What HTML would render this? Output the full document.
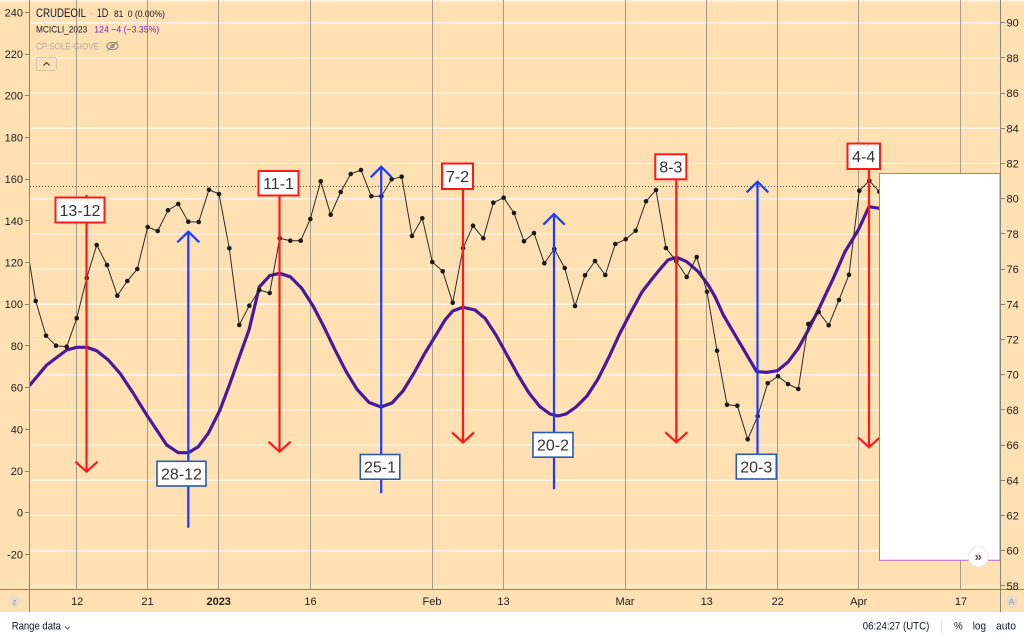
<!DOCTYPE html>
<html>
<head>
<meta charset="utf-8">
<style>
html,body{margin:0;padding:0;background:#ffffff;}
body{width:1024px;height:640px;overflow:hidden;}
svg{display:block;font-family:"Liberation Sans",Arial,sans-serif;}
</style>
</head>
<body>
<svg width="1024" height="640" viewBox="0 0 1024 640" xmlns="http://www.w3.org/2000/svg">
  <defs>
    <clipPath id="plot"><rect x="30" y="0" width="970" height="589"/></clipPath>
  </defs>
  <!-- background -->
  <rect x="0" y="0" width="1024" height="612" fill="#ffe0b2"/>
  <rect x="0" y="612" width="1024" height="28" fill="#ffffff"/>
  <rect x="0" y="0" width="1024" height="1.5" fill="#fff4e4"/>

  <!-- horizontal grid (white) -->
  <g stroke="#fff6ea" stroke-width="1.2" shape-rendering="crispEdges">
    <line x1="30" x2="1000" y1="22.7" y2="22.7"/>
    <line x1="30" x2="1000" y1="57.9" y2="57.9"/>
    <line x1="30" x2="1000" y1="93.1" y2="93.1"/>
    <line x1="30" x2="1000" y1="128.3" y2="128.3"/>
    <line x1="30" x2="1000" y1="163.5" y2="163.5"/>
    <line x1="30" x2="1000" y1="198.7" y2="198.7"/>
    <line x1="30" x2="1000" y1="233.9" y2="233.9"/>
    <line x1="30" x2="1000" y1="269.1" y2="269.1"/>
    <line x1="30" x2="1000" y1="304.3" y2="304.3"/>
    <line x1="30" x2="1000" y1="339.5" y2="339.5"/>
    <line x1="30" x2="1000" y1="374.7" y2="374.7"/>
    <line x1="30" x2="1000" y1="409.9" y2="409.9"/>
    <line x1="30" x2="1000" y1="445.1" y2="445.1"/>
    <line x1="30" x2="1000" y1="480.3" y2="480.3"/>
    <line x1="30" x2="1000" y1="515.5" y2="515.5"/>
    <line x1="30" x2="1000" y1="550.7" y2="550.7"/>
    <line x1="30" x2="1000" y1="585.9" y2="585.9"/>
  </g>

  <!-- vertical grid -->
  <g stroke="#a39a88" stroke-width="1" shape-rendering="crispEdges">
    <line x1="76.5" x2="76.5" y1="0" y2="589"/>
    <line x1="147.5" x2="147.5" y1="0" y2="589"/>
    <line x1="218.5" x2="218.5" y1="0" y2="589"/>
    <line x1="310.5" x2="310.5" y1="0" y2="589"/>
    <line x1="432.5" x2="432.5" y1="0" y2="589"/>
    <line x1="503.5" x2="503.5" y1="0" y2="589"/>
    <line x1="625.5" x2="625.5" y1="0" y2="589"/>
    <line x1="706.5" x2="706.5" y1="0" y2="589"/>
    <line x1="777.5" x2="777.5" y1="0" y2="589"/>
    <line x1="858.5" x2="858.5" y1="0" y2="589"/>
    <line x1="960.5" x2="960.5" y1="0" y2="589"/>
  </g>

  <!-- dotted price line -->
  <line x1="30" x2="1000" y1="186.5" y2="186.5" stroke="#555" stroke-width="1" stroke-dasharray="1,2" shape-rendering="crispEdges"/>

  <g clip-path="url(#plot)">
    <!-- purple cycle curve -->
    <polyline fill="none" stroke="#4a189e" stroke-width="3.2" stroke-linejoin="round" stroke-linecap="round"
      points="30,385 46.7,365 66.7,350 76.7,347.3 86.7,347.3 96.7,350.7 108.3,360 120,373.3 133.3,393.3 146.7,415 156.7,430 166.7,445 178.3,452.7 188.3,452.7 198.3,446.7 208.3,433.3 220,410 230,383.3 240,355 249,330 259.3,287 269.7,275.7 279.7,273.3 290.3,276.8 301.7,288.3 313.3,306.4 323.3,325.6 335,349.8 346,371.3 357,389.3 369,402.4 381,407 392,403 403,391 414,373 425,353 436,335 445,320 452.7,311 463,307.3 475,310 485,318.3 496,335 507,355 518,375 529,393 540,406.7 550,414 558,416 566,414 576,407 587,396 598,379 609,357 620,333 631,312 642,292 652,279 661,268 668,260 676.7,257.3 686.7,261.7 698.3,271.7 708.3,285 715,296.7 723.3,315 740,343.3 756.7,371.7 766.7,372.3 777.3,370.7 788.3,361.7 798.3,348.3 808.3,330 818.3,310 833.3,278.3 845,251.7 858.3,230 869,206.7 879.3,208.3 900,209"/>

    <!-- price series -->
    <polyline fill="none" stroke="#2b2b2b" stroke-width="1" stroke-linejoin="round"
      points="26,240 35.7,301 46,335.7 56,345.7 66.7,346.7 76.7,318.3 86.7,278 96.7,245 107,265 117.3,295.7 127.3,281 137.3,269 147.7,227 157.7,231 168,210.3 178.3,204 188.3,221.7 198.7,222 209,189.7 219,194 229.3,248.3 239.3,325 249.3,305.7 259.3,290 269.7,293 279.7,238.3 290.3,240.7 300.7,240.7 310.3,219 320.7,181.3 330.7,214.7 340.7,192 350.7,174 361,170 371.3,196.3 381.3,196.3 391.7,179.3 401.7,176.7 412,236 422.3,218.3 432.3,262 442.7,271.3 452.7,302.7 463,248.3 473,225.7 483.3,238.3 493.3,202.7 503.7,197.7 514,213 524,241.3 534,233 544.3,263.3 554.3,249 564.7,268 575,306 585,275.3 595,261 605.3,275 615.3,244 625.7,239.3 635.7,230.7 646,201.3 656,190 666,248 676.3,261.3 686.7,277 696.7,257 707,291.7 717,350.7 727,404.7 737.3,405.7 747.7,439.3 757.7,416.3 767.7,383.3 778,376.3 788,384 798.3,389 808.3,324 818.7,312 828.7,325.3 839,300 849,274.7 859.3,190.7 869.3,180.7 879.3,191.7"/>
    <g fill="#1a1a1a">
      <circle cx="35.7" cy="301" r="2.3"/><circle cx="46" cy="335.7" r="2.3"/><circle cx="56" cy="345.7" r="2.3"/><circle cx="66.7" cy="346.7" r="2.3"/><circle cx="76.7" cy="318.3" r="2.3"/><circle cx="86.7" cy="278" r="2.3"/><circle cx="96.7" cy="245" r="2.3"/><circle cx="107" cy="265" r="2.3"/><circle cx="117.3" cy="295.7" r="2.3"/><circle cx="127.3" cy="281" r="2.3"/><circle cx="137.3" cy="269" r="2.3"/><circle cx="147.7" cy="227" r="2.3"/><circle cx="157.7" cy="231" r="2.3"/><circle cx="168" cy="210.3" r="2.3"/><circle cx="178.3" cy="204" r="2.3"/><circle cx="188.3" cy="221.7" r="2.3"/><circle cx="198.7" cy="222" r="2.3"/><circle cx="209" cy="189.7" r="2.3"/><circle cx="219" cy="194" r="2.3"/><circle cx="229.3" cy="248.3" r="2.3"/><circle cx="239.3" cy="325" r="2.3"/><circle cx="249.3" cy="305.7" r="2.3"/><circle cx="259.3" cy="290" r="2.3"/><circle cx="269.7" cy="293" r="2.3"/><circle cx="279.7" cy="238.3" r="2.3"/><circle cx="290.3" cy="240.7" r="2.3"/><circle cx="300.7" cy="240.7" r="2.3"/><circle cx="310.3" cy="219" r="2.3"/><circle cx="320.7" cy="181.3" r="2.3"/><circle cx="330.7" cy="214.7" r="2.3"/><circle cx="340.7" cy="192" r="2.3"/><circle cx="350.7" cy="174" r="2.3"/><circle cx="361" cy="170" r="2.3"/><circle cx="371.3" cy="196.3" r="2.3"/><circle cx="381.3" cy="196.3" r="2.3"/><circle cx="391.7" cy="179.3" r="2.3"/><circle cx="401.7" cy="176.7" r="2.3"/><circle cx="412" cy="236" r="2.3"/><circle cx="422.3" cy="218.3" r="2.3"/><circle cx="432.3" cy="262" r="2.3"/><circle cx="442.7" cy="271.3" r="2.3"/><circle cx="452.7" cy="302.7" r="2.3"/><circle cx="463" cy="248.3" r="2.3"/><circle cx="473" cy="225.7" r="2.3"/><circle cx="483.3" cy="238.3" r="2.3"/><circle cx="493.3" cy="202.7" r="2.3"/><circle cx="503.7" cy="197.7" r="2.3"/><circle cx="514" cy="213" r="2.3"/><circle cx="524" cy="241.3" r="2.3"/><circle cx="534" cy="233" r="2.3"/><circle cx="544.3" cy="263.3" r="2.3"/><circle cx="554.3" cy="249" r="2.3"/><circle cx="564.7" cy="268" r="2.3"/><circle cx="575" cy="306" r="2.3"/><circle cx="585" cy="275.3" r="2.3"/><circle cx="595" cy="261" r="2.3"/><circle cx="605.3" cy="275" r="2.3"/><circle cx="615.3" cy="244" r="2.3"/><circle cx="625.7" cy="239.3" r="2.3"/><circle cx="635.7" cy="230.7" r="2.3"/><circle cx="646" cy="201.3" r="2.3"/><circle cx="656" cy="190" r="2.3"/><circle cx="666" cy="248" r="2.3"/><circle cx="676.3" cy="261.3" r="2.3"/><circle cx="686.7" cy="277" r="2.3"/><circle cx="696.7" cy="257" r="2.3"/><circle cx="707" cy="291.7" r="2.3"/><circle cx="717" cy="350.7" r="2.3"/><circle cx="727" cy="404.7" r="2.3"/><circle cx="737.3" cy="405.7" r="2.3"/><circle cx="747.7" cy="439.3" r="2.3"/><circle cx="757.7" cy="416.3" r="2.3"/><circle cx="767.7" cy="383.3" r="2.3"/><circle cx="778" cy="376.3" r="2.3"/><circle cx="788" cy="384" r="2.3"/><circle cx="798.3" cy="389" r="2.3"/><circle cx="808.3" cy="324" r="2.3"/><circle cx="818.7" cy="312" r="2.3"/><circle cx="828.7" cy="325.3" r="2.3"/><circle cx="839" cy="300" r="2.3"/><circle cx="849" cy="274.7" r="2.3"/><circle cx="859.3" cy="190.7" r="2.3"/><circle cx="869.3" cy="180.7" r="2.3"/><circle cx="879.3" cy="191.7" r="2.3"/>
    </g>
  </g>

  <!-- red down arrows -->
  <g stroke="#ff1a1a" stroke-width="2.2" fill="none" stroke-linecap="butt">
    <path d="M86.5,195 L86.5,471.7 M75.5,461.7 L86.5,471.7 L97.5,461.7"/>
    <path d="M279.5,171 L279.5,451.7 M268.5,441.7 L279.5,451.7 L290.5,441.7"/>
    <path d="M463,164 L463,442.5 M452,432.5 L463,442.5 L474,432.5"/>
    <path d="M676.3,155 L676.3,442.3 M665.3,432.3 L676.3,442.3 L687.3,432.3"/>
    <path d="M869,144 L869,447.3 M858,437.3 L869,447.3 L880,437.3"/>
  </g>

  <!-- blue up arrows -->
  <g stroke="#1a3cff" stroke-width="2.2" fill="none">
    <path d="M188.3,527.7 L188.3,231.7 M177.3,242.3 L188.3,231.7 L199.3,242.3"/>
    <path d="M381.2,493.3 L381.2,166.7 M370.7,177.3 L381.2,166.7 L391.7,177.3"/>
    <path d="M554,489.3 L554,214 M543.3,224.7 L554,214 L564.7,224.7"/>
    <path d="M757.5,455 L757.5,181.7 M746.7,192.3 L757.5,181.7 L768.3,192.3"/>
  </g>

  <!-- red label boxes -->
  <g font-size="16" fill="#333" text-anchor="middle">
    <rect x="55.5" y="197.5" width="49" height="25" fill="#fff" stroke="#ff1a1a" stroke-width="2"/>
    <text x="80" y="215.8">13-12</text>
    <rect x="258.5" y="171" width="40" height="24.5" fill="#fff" stroke="#ff1a1a" stroke-width="2"/>
    <text x="278.5" y="189">11-1</text>
    <rect x="442" y="163.5" width="31" height="25.5" fill="#fff" stroke="#ff1a1a" stroke-width="2"/>
    <text x="457.5" y="182">7-2</text>
    <rect x="655.3" y="154.3" width="31" height="25" fill="#fff" stroke="#ff1a1a" stroke-width="2"/>
    <text x="670.8" y="172.6">8-3</text>
    <rect x="847.5" y="143.5" width="32.5" height="25.5" fill="#fff" stroke="#ff1a1a" stroke-width="2"/>
    <text x="863.7" y="162">4-4</text>
  </g>

  <!-- blue label boxes -->
  <g font-size="16" fill="#333" text-anchor="middle">
    <rect x="157" y="461.3" width="49" height="24.7" fill="#fff" stroke="#2a5caa" stroke-width="1.6"/>
    <text x="181.5" y="479.5">28-12</text>
    <rect x="360.3" y="454.5" width="39.5" height="24.7" fill="#fff" stroke="#2a5caa" stroke-width="1.6"/>
    <text x="380" y="472.7">25-1</text>
    <rect x="533" y="432.5" width="40" height="24.7" fill="#fff" stroke="#2a5caa" stroke-width="1.6"/>
    <text x="553" y="450.7">20-2</text>
    <rect x="736.3" y="454.3" width="40" height="24.7" fill="#fff" stroke="#2a5caa" stroke-width="1.6"/>
    <text x="756.3" y="472.5">20-3</text>
  </g>

  <!-- white overlay box -->
  <rect x="879.5" y="173.5" width="120.5" height="386.8" fill="#ffffff" stroke="#b968cc" stroke-width="1"/>
  <circle cx="978.3" cy="556.7" r="10" fill="#ffffff" stroke="#eee4f0" stroke-width="1"/>
  <text x="978.3" y="561" font-size="13" fill="#555" text-anchor="middle" font-weight="bold">»</text>

  <!-- axes lines -->
  <g stroke="#8a8378" stroke-width="1" shape-rendering="crispEdges">
    <line x1="29.5" x2="29.5" y1="0" y2="612"/>
    <line x1="1000.5" x2="1000.5" y1="0" y2="612"/>
    <line x1="0" x2="1024" y1="589.5" y2="589.5"/>
  </g>

  <!-- left axis ticks/labels -->
  <g stroke="#8a8378" stroke-width="1" shape-rendering="crispEdges">
    <line x1="25" x2="29" y1="12.5" y2="12.5"/><line x1="25" x2="29" y1="54.5" y2="54.5"/><line x1="25" x2="29" y1="95.5" y2="95.5"/><line x1="25" x2="29" y1="137.5" y2="137.5"/><line x1="25" x2="29" y1="179.5" y2="179.5"/><line x1="25" x2="29" y1="220.5" y2="220.5"/><line x1="25" x2="29" y1="262.5" y2="262.5"/><line x1="25" x2="29" y1="304.5" y2="304.5"/><line x1="25" x2="29" y1="345.5" y2="345.5"/><line x1="25" x2="29" y1="387.5" y2="387.5"/><line x1="25" x2="29" y1="429.5" y2="429.5"/><line x1="25" x2="29" y1="471.5" y2="471.5"/><line x1="25" x2="29" y1="512.5" y2="512.5"/><line x1="25" x2="29" y1="554.5" y2="554.5"/>
  </g>
  <g font-size="11" fill="#1e1e1e" text-anchor="end">
    <text x="23" y="16.3">240</text>
    <text x="23" y="58">220</text>
    <text x="23" y="99.7">200</text>
    <text x="23" y="141.4">180</text>
    <text x="23" y="183.1">160</text>
    <text x="23" y="224.8">140</text>
    <text x="23" y="266.5">120</text>
    <text x="23" y="308.2">100</text>
    <text x="23" y="349.9">80</text>
    <text x="23" y="391.6">60</text>
    <text x="23" y="433.3">40</text>
    <text x="23" y="475">20</text>
    <text x="23" y="516.7">0</text>
    <text x="23" y="558.4">-20</text>
  </g>

  <!-- right axis ticks/labels -->
  <g stroke="#8a8378" stroke-width="1" shape-rendering="crispEdges">
    <line x1="1001" x2="1005" y1="22.5" y2="22.5"/><line x1="1001" x2="1005" y1="57.5" y2="57.5"/><line x1="1001" x2="1005" y1="93.5" y2="93.5"/><line x1="1001" x2="1005" y1="128.5" y2="128.5"/><line x1="1001" x2="1005" y1="163.5" y2="163.5"/><line x1="1001" x2="1005" y1="198.5" y2="198.5"/><line x1="1001" x2="1005" y1="233.5" y2="233.5"/><line x1="1001" x2="1005" y1="269.5" y2="269.5"/><line x1="1001" x2="1005" y1="304.5" y2="304.5"/><line x1="1001" x2="1005" y1="339.5" y2="339.5"/><line x1="1001" x2="1005" y1="374.5" y2="374.5"/><line x1="1001" x2="1005" y1="409.5" y2="409.5"/><line x1="1001" x2="1005" y1="445.5" y2="445.5"/><line x1="1001" x2="1005" y1="480.5" y2="480.5"/><line x1="1001" x2="1005" y1="515.5" y2="515.5"/><line x1="1001" x2="1005" y1="550.5" y2="550.5"/><line x1="1001" x2="1005" y1="585.5" y2="585.5"/>
  </g>
  <g font-size="11" fill="#1e1e1e">
    <text x="1006.5" y="26.7">90</text>
    <text x="1006.5" y="61.9">88</text>
    <text x="1006.5" y="97.1">86</text>
    <text x="1006.5" y="132.3">84</text>
    <text x="1006.5" y="167.5">82</text>
    <text x="1006.5" y="202.7">80</text>
    <text x="1006.5" y="237.9">78</text>
    <text x="1006.5" y="273.1">76</text>
    <text x="1006.5" y="308.3">74</text>
    <text x="1006.5" y="343.5">72</text>
    <text x="1006.5" y="378.7">70</text>
    <text x="1006.5" y="413.9">68</text>
    <text x="1006.5" y="449.1">66</text>
    <text x="1006.5" y="484.3">64</text>
    <text x="1006.5" y="519.5">62</text>
    <text x="1006.5" y="554.7">60</text>
    <text x="1006.5" y="589.9">58</text>
  </g>

  <!-- time axis labels -->
  <g font-size="11" fill="#1e1e1e" text-anchor="middle">
    <text x="77.2" y="605">12</text>
    <text x="147.5" y="605">21</text>
    <text x="218.7" y="605" font-weight="bold">2023</text>
    <text x="310.5" y="605">16</text>
    <text x="432" y="605">Feb</text>
    <text x="503.5" y="605">13</text>
    <text x="625" y="605">Mar</text>
    <text x="706.7" y="605">13</text>
    <text x="777.7" y="605">22</text>
    <text x="858.7" y="605">Apr</text>
    <text x="961" y="605">17</text>
  </g>
  <circle cx="14.5" cy="601.5" r="6" fill="#eadccb"/>
  <text x="14.5" y="604.5" font-size="8" fill="#999" text-anchor="middle">z</text>
  <circle cx="1011.7" cy="601.5" r="6.5" fill="#eadccb"/>
  <text x="1011.7" y="604.7" font-size="8.5" fill="#999" text-anchor="middle">A</text>

  <!-- legend -->
  <text x="36" y="17" font-size="12" fill="#131722" textLength="50" lengthAdjust="spacingAndGlyphs">CRUDEOIL</text>
  <text x="89.5" y="16" font-size="10" fill="#999">·</text>
  <text x="96.7" y="17" font-size="12" fill="#131722" textLength="11.6" lengthAdjust="spacingAndGlyphs">1D</text>
  <text x="114" y="17" font-size="9.5" fill="#131722" textLength="9.3" lengthAdjust="spacingAndGlyphs">81</text>
  <text x="127.7" y="17" font-size="9.5" fill="#131722" textLength="37.3" lengthAdjust="spacingAndGlyphs">0 (0.00%)</text>
  <text x="36" y="32.7" font-size="9.5" fill="#131722" textLength="51.3" lengthAdjust="spacingAndGlyphs">MCICLI_2023</text>
  <text x="94.3" y="32.7" font-size="9.5" fill="#6a2ab8" textLength="65" lengthAdjust="spacingAndGlyphs">124 −4 (−3.35%)</text>
  <text x="36" y="49.3" font-size="9.5" fill="#b3aa9c" textLength="63" lengthAdjust="spacingAndGlyphs">CP:SOLE-GIOVE</text>
  <g stroke="#8a8378" stroke-width="1" fill="none">
    <ellipse cx="112.5" cy="46" rx="5.5" ry="3.6"/>
    <circle cx="112.5" cy="46" r="1.6"/>
    <line x1="107.5" y1="50.5" x2="117.5" y2="41.5"/>
  </g>
  <rect x="36.5" y="57.5" width="20" height="13" rx="2" fill="none" stroke="#d3c6b2" stroke-width="1"/>
  <path d="M43.5,65.5 L46.5,62.5 L49.5,65.5" stroke="#333" stroke-width="1.1" fill="none"/>

  <!-- bottom toolbar -->
  <text x="11.7" y="629.5" font-size="11" fill="#131722" textLength="49.3" lengthAdjust="spacingAndGlyphs">Range data</text>
  <path d="M65,626.5 L67.5,629 L70,626.5" stroke="#666" stroke-width="1" fill="none"/>
  <text x="862.7" y="629.5" font-size="11" fill="#131722" textLength="66.6" lengthAdjust="spacingAndGlyphs">06:24:27 (UTC)</text>
  <line x1="941.5" x2="941.5" y1="619" y2="633" stroke="#e0e3eb" stroke-width="1"/>
  <text x="954" y="629.5" font-size="11" fill="#131722" textLength="8.7" lengthAdjust="spacingAndGlyphs">%</text>
  <text x="972.7" y="629.5" font-size="11" fill="#131722" textLength="13.3" lengthAdjust="spacingAndGlyphs">log</text>
  <text x="996" y="629.5" font-size="11" fill="#131722" textLength="20" lengthAdjust="spacingAndGlyphs">auto</text>
</svg>
</body>
</html>
